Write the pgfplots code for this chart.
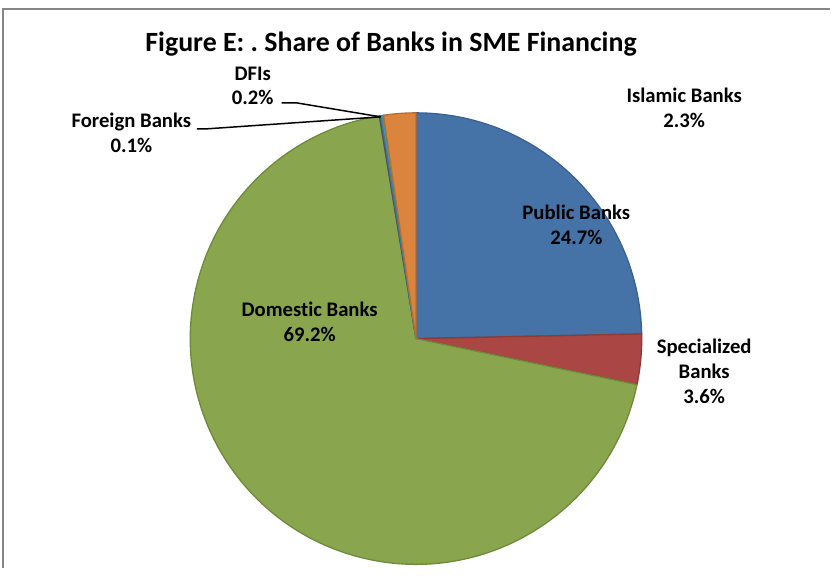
\documentclass[border=0pt]{standalone}
\usepackage{fontspec}
\setmainfont{Carlito}[Ligatures=NoCommon]
\usepackage{pgfplots}
\usepackage{pgfplotstable}
\pgfplotsset{compat=1.18}
\frenchspacing

\definecolor{cA}{HTML}{4572A7}\definecolor{dA}{HTML}{3A6192}
\definecolor{cB}{HTML}{AA4643}\definecolor{dB}{HTML}{8E3936}
\definecolor{cC}{HTML}{89A54E}\definecolor{dC}{HTML}{6E8A3A}
\definecolor{cD}{HTML}{71588F}\definecolor{dD}{HTML}{5A4673}
\definecolor{cE}{HTML}{4198AF}\definecolor{dE}{HTML}{347C8F}
\definecolor{cF}{HTML}{DB843D}\definecolor{dF}{HTML}{B86D30}
\definecolor{frame}{HTML}{868686}

\pgfplotstableread{
label value
Public 24.7
Specialized 3.6
Domestic 69.2
Foreign 0.1
DFIs 0.2
Islamic 2.3
}\piedata

% compute total and slice angles (clockwise from 12 o'clock)
\pgfplotstablegetrowsof{\piedata}
\pgfmathtruncatemacro\nrows{\pgfplotsretval-1}
\gdef\pietotal{0}
\foreach \i in {0,...,\nrows}{%
  \pgfplotstablegetelem{\i}{value}\of\piedata
  \pgfmathsetmacro\t{\pietotal+\pgfplotsretval}%
  \global\let\pietotal\t
}
\gdef\curang{90}
\foreach \i in {0,...,\nrows}{%
  \pgfplotstablegetelem{\i}{value}\of\piedata
  \pgfmathsetmacro\e{\curang-\pgfplotsretval/\pietotal*360}%
  \expandafter\xdef\csname sa\i\endcsname{\curang}%
  \expandafter\xdef\csname ea\i\endcsname{\e}%
  \global\let\curang\e
}

\def\cx{416.5}\def\cy{230}\def\R{226}
\newcommand\slice[3]{% index, fill, draw
  \fill[#2, draw=#3, line width=1.3bp, line join=round]
    (axis cs:\cx,\cy) -- ++(\csname sa#1\endcsname:\R bp)
    arc[start angle=\csname sa#1\endcsname, end angle=\csname ea#1\endcsname, radius=\R bp] -- cycle;}

\begin{document}
\begin{tikzpicture}
\begin{axis}[
  x=1bp, y=1bp, xmin=0, xmax=831, ymin=0, ymax=569,
  hide axis, clip=false, scale only axis,
]
\slice{0}{cA}{dA}
\slice{1}{cB}{dB}
\slice{2}{cC}{dC}
\slice{3}{cD}{dD}
\slice{4}{cE}{dE}
\slice{5}{cF}{dF}
% frame
\draw[frame, line width=2bp] (axis cs:3,0) -- (axis cs:3,560) -- (axis cs:831,560);
% leader lines
\draw[black, line width=1.5bp] (axis cs:282,466) -- (axis cs:297,466) -- (axis cs:381,452);
\draw[black, line width=1.5bp] (axis cs:197,440) -- (axis cs:207,440) -- (axis cs:381,452);
% title
\node[anchor=base, font=\fontsize{28}{33}\selectfont\bfseries] at (axis cs:391.5,517) {Figure E: . Share of Banks in SME Financing};
% labels
\begin{scope}[every node/.style={anchor=base, font=\fontsize{20.8}{25}\selectfont\bfseries, inner sep=0pt}]
\node at (axis cs:577,349.5) {Public Banks};
\node at (axis cs:577,324.5) {24.7\%};
\node at (axis cs:705,215) {Specialized};
\node at (axis cs:705,190) {Banks};
\node at (axis cs:705,165) {3.6\%};
\node at (axis cs:310,252) {Domestic Banks};
\node at (axis cs:310,227) {69.2\%};
\node at (axis cs:685,466) {Islamic Banks};
\node at (axis cs:685,441) {2.3\%};
\node at (axis cs:253,488.5) {DFIs};
\node at (axis cs:253,464) {0.2\%};
\node at (axis cs:131.5,441) {Foreign Banks};
\node at (axis cs:131.5,416) {0.1\%};
\end{scope}
\end{axis}
\useasboundingbox (0,0) rectangle (831bp,569bp);
\end{tikzpicture}
\end{document}
